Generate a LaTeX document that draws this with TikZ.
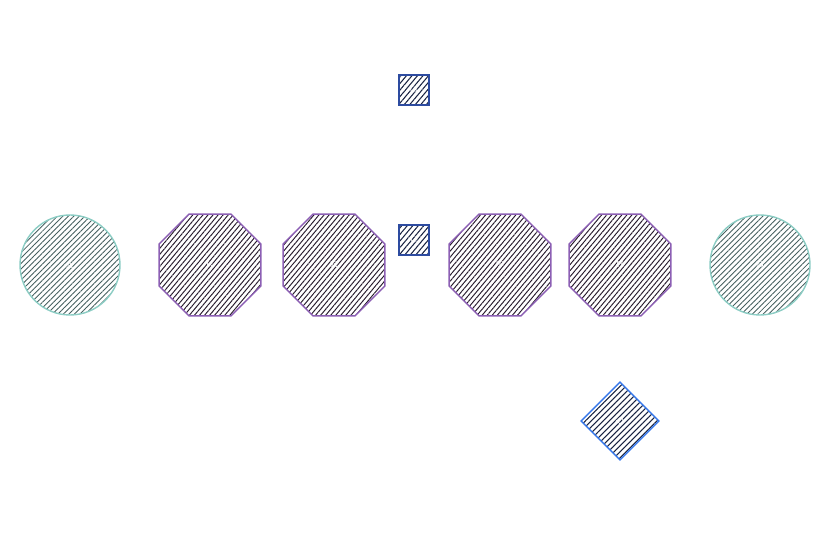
\documentclass[tikz,border=0pt]{standalone}
\usepackage{tikz}
\usetikzlibrary{positioning, shapes.geometric, patterns.meta}
\definecolor{tealline}{RGB}{140,205,196}
\definecolor{tealhatch}{RGB}{70,95,95}
\definecolor{plumline}{RGB}{140,95,180}
\definecolor{plumhatch}{RGB}{40,28,45}
\definecolor{navyline}{RGB}{45,75,160}
\definecolor{navyhatch}{RGB}{25,35,65}
\definecolor{skyline}{RGB}{55,120,235}

\begin{document}
\begin{tikzpicture}[on grid, every node/.style={align=center, font=\tiny, text=white},
  roundnode/.style={circle, draw=tealline, thick, minimum size=2cm,
    pattern={Lines[angle=45, distance=2.2pt, line width=.5pt]}, pattern color=tealhatch},
  octnode/.style={regular polygon, regular polygon sides=8, draw=plumline, thick, minimum size=2.2cm,
    pattern={Lines[angle=50, distance=2.2pt, line width=.55pt]}, pattern color=plumhatch},
  boxnode/.style={rectangle, draw=navyline, thick, minimum size=.6cm, inner sep=0pt,
    pattern={Lines[angle=50, distance=2.4pt, line width=.6pt]}, pattern color=navyhatch},
  tiltnode/.style={rectangle, draw=skyline, thick, minimum size=1.1cm, rotate=45,
    pattern={Lines[angle=45, distance=2.4pt, line width=.6pt]}, pattern color=navyhatch}]
  \useasboundingbox (0,0) rectangle (16.54,10.94);

  \node[roundnode] (A) at (1.4,5.64) {A};
  \node[octnode, right=2.8cm of A] (K) {K};
  \node[octnode, right=2.48cm of K] (E) {E};
  \node[boxnode, above right=.5cm and 1.6cm of E] (C) {C};
  \node[boxnode, above=3cm of C] (G) {G};
  \node[octnode, below right=.5cm and 1.72cm of C] (T) {T};
  \node[octnode, right=2.4cm of T] (H) {H};
  \node[roundnode, right=2.8cm of H] (B) {B};
  \node[tiltnode, below=3.12cm of H] (D) {D};
\end{tikzpicture}
\end{document}
